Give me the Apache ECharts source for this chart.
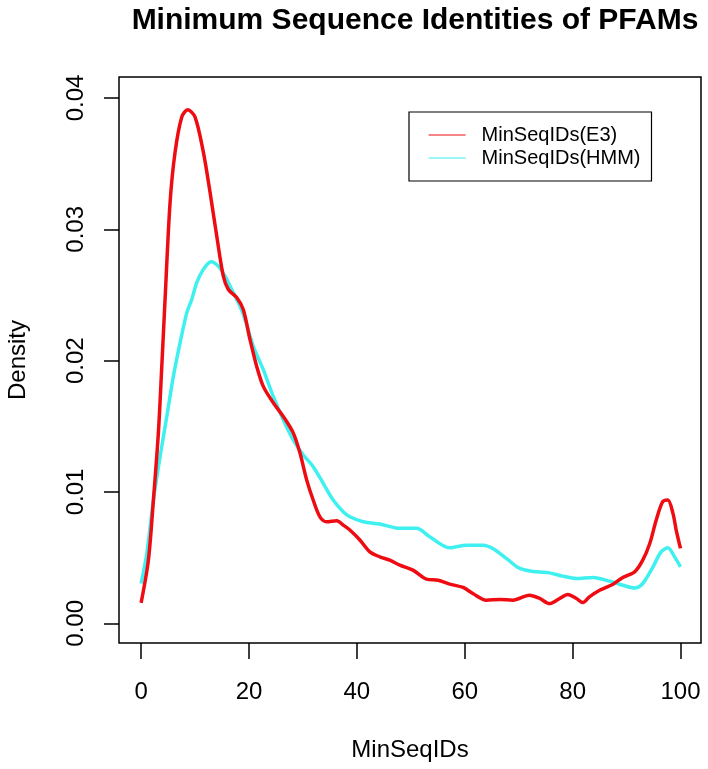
<!DOCTYPE html>
<html>
<head>
<meta charset="utf-8">
<script src="https://cdn.jsdelivr.net/npm/echarts@6/dist/echarts.min.js"></script>
<style>html,body{margin:0;padding:0;background:#fff}#c{width:708px;height:769px}</style>
</head>
<body>
<div id="c"></div>
<script>
const titleText = 'Minimum Sequence Identities of PFAMs';
const xName = 'MinSeqIDs';
const yName = 'Density';
const seriesNames = ['MinSeqIDs(E3)', 'MinSeqIDs(HMM)'];
const xTicks = [0, 20, 40, 60, 80, 100];
const yTicks = [0, 0.01, 0.02, 0.03, 0.04];

const e3X = [0, 1.35, 2.28, 3.2, 3.83, 4.44, 5.37, 6.3, 7.54, 8.65, 10, 11.54, 12.78, 14.02, 15.24, 16.17, 17.72, 18.94, 20.19, 21.43, 22.65, 24.5, 26.35, 28.2, 29.44, 30.69, 31.9, 33.15, 34.39, 36.24, 37.46, 38.7, 40.56, 42.4, 44.26, 46.1, 47.96, 50.4, 52.9, 55.06, 57.2, 59.7, 61.5, 64, 66.5, 68.9, 72, 73.9, 75.7, 77.6, 79.1, 80.7, 81.9, 83.1, 85, 87.5, 89.3, 91.5, 93, 94.3, 95.5, 96.7, 97.65, 98.6, 99.2, 100];
const e3Y = [0.00155, 0.00481, 0.00939, 0.0145, 0.01954, 0.02466, 0.03206, 0.03588, 0.03855, 0.0391, 0.03855, 0.03588, 0.03282, 0.02949, 0.02643, 0.02542, 0.02481, 0.02389, 0.0216, 0.01956, 0.01804, 0.01679, 0.01575, 0.0145, 0.01298, 0.01092, 0.00939, 0.00811, 0.00773, 0.00781, 0.00748, 0.0071, 0.00634, 0.00544, 0.00506, 0.00481, 0.00443, 0.00405, 0.00336, 0.00328, 0.00298, 0.00273, 0.00227, 0.00176, 0.00181, 0.00176, 0.00214, 0.00189, 0.0015, 0.00189, 0.00219, 0.00189, 0.00158, 0.00201, 0.00252, 0.00298, 0.00349, 0.00392, 0.00481, 0.00608, 0.00786, 0.00926, 0.00939, 0.00837, 0.0071, 0.0057];

const hmmX = [0, 1.06, 2.28, 3.52, 4.76, 5.98, 7.22, 8.46, 9.39, 10.3, 11.54, 12.96, 14.3, 15.56, 16.8, 18.33, 19.26, 20.8, 22.65, 24.5, 26.35, 28.2, 30.06, 31.9, 33.76, 35.6, 37.46, 38.7, 41.17, 44.26, 47.96, 51.06, 53.5, 57.2, 60.3, 63.4, 65.2, 67.7, 70.2, 73.3, 75.7, 78.2, 80.7, 83.8, 86.85, 89.3, 91.5, 93, 94.9, 96.4, 97.65, 98.9, 100];
const hmmY = [0.00303, 0.00532, 0.00939, 0.0127, 0.01575, 0.0188, 0.02135, 0.02364, 0.02466, 0.02593, 0.02695, 0.02753, 0.0272, 0.02643, 0.02542, 0.02415, 0.02313, 0.02109, 0.01931, 0.01727, 0.0155, 0.01397, 0.01282, 0.01193, 0.01066, 0.00939, 0.0085, 0.00811, 0.00773, 0.00756, 0.00723, 0.00723, 0.00659, 0.00575, 0.00595, 0.00595, 0.0057, 0.00494, 0.00418, 0.00392, 0.00384, 0.00359, 0.00341, 0.00349, 0.00321, 0.0029, 0.00269, 0.00303, 0.0043, 0.00544, 0.00575, 0.00506, 0.0043];

const seriesColors = ['#ee0c12', '#3ff0f0'];
const FONT = '"Liberation Sans", Arial, Helvetica, sans-serif';

function zip(xs, ys) { return xs.map((x, i) => [x, ys[i]]); }

const chart = echarts.init(document.getElementById('c'), null, {renderer: 'canvas'});
chart.setOption({
  animation: false,
  backgroundColor: '#fff',
  title: {
    text: titleText,
    left: 410, top: 1, textAlign: 'center',
    textStyle: {fontFamily: FONT, fontWeight: 'bold', fontSize: 30, color: '#000'}
  },
  legend: {
    left: 409, top: 112, orient: 'vertical',
    padding: [13, 11, 13, 19],
    itemGap: 3, itemWidth: 37, itemHeight: 20,
    borderColor: '#000', borderWidth: 1.2,
    selectedMode: false,
    itemStyle: {opacity: 0},
    lineStyle: {width: 1.2},
    textStyle: {fontFamily: FONT, fontSize: 20, color: '#000', padding: [0, 0, 0, 11]},
    data: seriesNames
  },
  grid: {
    left: 119, right: 7, top: 77, bottom: 126,
    outerBoundsMode: 'none', containLabel: false,
    show: true, borderColor: '#000', borderWidth: 1.5, backgroundColor: 'transparent'
  },
  xAxis: {
    type: 'value', min: -4.1, max: 103.8,
    name: xName, nameLocation: 'middle', nameGap: 95,
    nameTextStyle: {fontFamily: FONT, fontSize: 24, color: '#000'},
    axisLine: {show: false, onZero: false},
    axisTick: {show: true, inside: false, length: 16, customValues: xTicks, lineStyle: {color: '#000', width: 1.5}},
    axisLabel: {customValues: xTicks, margin: 37, fontFamily: FONT, fontSize: 24, color: '#000'},
    splitLine: {show: false}
  },
  yAxis: {
    type: 'value', min: -0.0015, max: 0.0416,
    name: yName, nameLocation: 'middle', nameGap: 89,
    nameTextStyle: {fontFamily: FONT, fontSize: 24, color: '#000'},
    axisLine: {show: false, onZero: false},
    axisTick: {show: true, inside: false, length: 15, customValues: yTicks, lineStyle: {color: '#000', width: 1.5}},
    axisLabel: {customValues: yTicks, margin: 31, rotate: 90, fontFamily: FONT, fontSize: 24, color: '#000',
      formatter: v => v.toFixed(2)},
    splitLine: {show: false}
  },
  series: [
    {name: seriesNames[0], type: 'line', data: zip(e3X, e3Y), smooth: 0.3, symbol: 'none',
     color: seriesColors[0], lineStyle: {width: 3.5, color: seriesColors[0]}, z: 3},
    {name: seriesNames[1], type: 'line', data: zip(hmmX, hmmY), smooth: 0.3, symbol: 'none',
     color: seriesColors[1], lineStyle: {width: 3.5, color: seriesColors[1]}, z: 2}
  ]
});
</script>
</body>
</html>
